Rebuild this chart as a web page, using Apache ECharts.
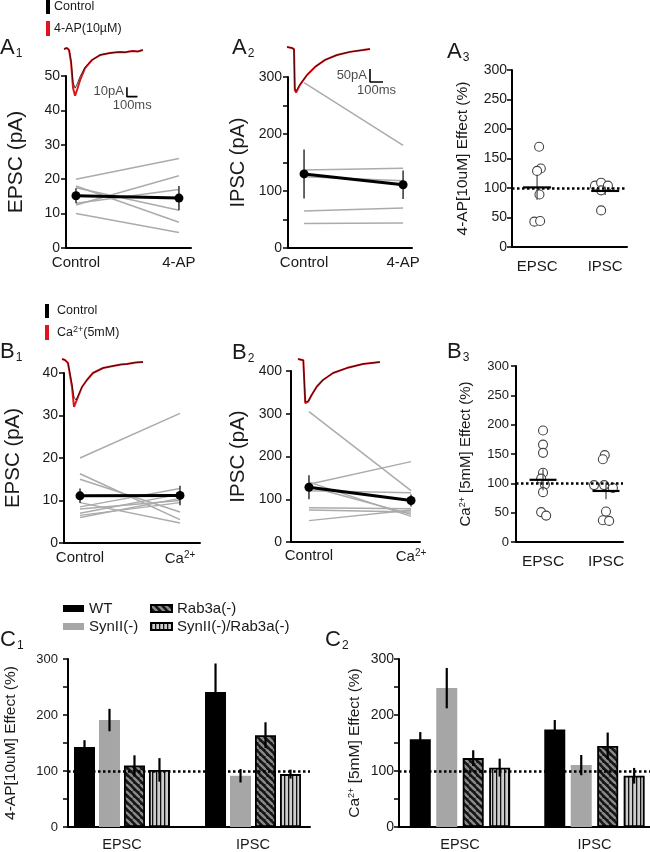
<!DOCTYPE html>
<html><head><meta charset="utf-8">
<script src="https://cdn.jsdelivr.net/npm/echarts@6/dist/echarts.min.js"></script>
<style>html,body{margin:0;padding:0;background:#fff}#c{width:650px;height:852px}</style>
</head><body><div id="c"></div>
<script>
// ================= DATA =================
const pairCatsA = ['Control', '4-AP'];
const pairCatsB = ['Control', 'Ca2+'];
const groupCats = ['EPSC', 'IPSC'];
const genotypes = ['WT', 'SynII(-)', 'Rab3a(-)', 'SynII(-)/Rab3a(-)'];

// A1 EPSC amplitude (pA), one entry per cell
const a1Control = [20, 12.5, 17.5, 18, 13, 10];
const a1FourAP  = [26, 21, 11, 7.5, 17, 4.5];
const a1Mean = [15.2, 14.5];
const a1Sem  = [2.2, 3.5];
// A2 IPSC amplitude (pA)
const a2Control = [290, 137, 125, 65, 43];
const a2FourAP  = [180, 140, 118, 70, 44];
const a2Mean = [130, 111];
const a2Sem  = [43, 25];
// A3 4-AP effect (%)
const a3EpscX = [1.03, 1.055, 1.0, 1.035, 0.96, 1.045];
const a3Epsc  = [170, 133, 129, 89, 43, 44];
const a3IpscX = [1.85, 1.94, 2.04, 1.94, 1.94];
const a3Ipsc  = [104, 109, 104, 96, 62];
const a3Mean = [101, 95];
const a3Sem  = [21, 7];
// B1 EPSC amplitude (pA)
const b1Control = [20, 16.3, 15, 9.5, 8.5, 8, 7, 6.5, 6];
const b1Calcium = [30.5, 5.5, 7.3, 4.7, 12.8, 10, 11.5, 9.5, 10.5];
const b1Mean = [11.1, 11.2];
const b1Sem  = [1.7, 2.3];
// B2 IPSC amplitude (pA)
const b2Control = [305, 135, 140, 120, 80, 75, 50, 130];
const b2Calcium = [120, 188, 60, 115, 78, 70, 75, 65];
const b2Mean = [128, 97];
const b2Sem  = [28, 14];
// B3 Ca2+ effect (%)
const b3EpscX = [1.0, 1.0, 1.0, 1.0, 0.97, 1.03, 1.0, 0.97, 1.05];
const b3Epsc  = [190, 166, 152, 118, 108, 98, 85, 51, 45];
const b3IpscX = [1.98, 1.95, 1.81, 1.97, 2.11, 2.0, 1.95, 2.05];
const b3Ipsc  = [148, 141, 97, 97, 92, 52, 37, 36];
const b3Mean = [106, 87];
const b3Sem  = [18, 14];
// C1 4-AP effect (%) per genotype: [EPSC, IPSC]
const c1Mean = [[143, 241], [191, 91.5], [110, 164], [102, 94.5]];
const c1Sem  = [[12, 51], [20, 12], [18, 23], [21, 8]];
// C2 Ca2+ effect (%) per genotype: [EPSC, IPSC]
const c2Mean = [[156.5, 174], [248, 110.5], [123, 144.7], [106, 91.5]];
const c2Sem  = [[13, 17], [36, 18], [14, 24], [16, 14]];
// reference level (%)
const baselinePct = 100;

// Example traces (time ms, current pA)
const a1TraceT    = [0, 28, 48, 67, 86, 105, 124, 152, 200, 266, 342, 437, 480, 532, 580, 620, 656, 700, 750];
const a1TraceCtl  = [0, 1, -1, -12, -35, -41, -37, -29, -19, -11.5, -6.3, -4.2, -3.6, -3.2, -3.5, -2.6, -2.1, -2.6, -1];
const a1TraceDrug = [0, 1, -1, -14, -41, -49, -43, -33, -20, -11.5, -6.3, -4.2, -3.6, -3.2, -3.5, -2.6, -2.1, -2.6, -1];
const a1ScaleBar  = [[598, -40], [598, -50], [698, -50]];   // 10 pA, 100 ms
const a2TraceT    = [0, 38, 54, 60, 70, 100, 154, 216, 293, 385, 485, 585, 639];
const a2TraceCtl  = [4, 0, -4, -155, -165, -140, -104, -73, -46, -27, -15, -8, -4];
const a2TraceDrug = [4, 0, -4, -162, -172, -142, -104, -73, -46, -27, -15, -8, -4];
const a2ScaleBar  = [[639, -81], [639, -131], [739, -131]]; // 50 pA, 100 ms
const b1TraceT    = [0, 28, 57, 95, 114, 133, 190, 237, 294, 390, 485, 560, 617, 700, 770];
const b1TraceCtl  = [0, -1, -4, -25, -38, -41, -28, -21, -14, -9, -7, -5.5, -5, -3.5, -3];
const b1TraceDrug = [0, -1, -4, -28, -48, -43, -28, -21, -14, -9, -7, -5.5, -5, -3.5, -3];
const b2TraceT    = [0, 15, 41, 56, 62, 79, 105, 144, 192, 270, 375, 500, 631];
const b2TraceCtl  = [0, 0, -5, -165, -172, -162, -139, -107, -81, -54, -35, -19, -12];
const b2TraceDrug = [0, 0, -5, -170, -177, -164, -139, -107, -81, -54, -35, -19, -12];

// ================= BUILD =================
const FONT = '"Liberation Sans", Arial, Helvetica, sans-serif';
const TXT = '#1a1a1a';
const RICH = {
  n: {fontFamily: FONT, color: TXT, fontSize: 15},
  s: {fontFamily: FONT, color: TXT, fontSize: 10, padding: [0, 0, 8, 0]}
};
const zip = (a, b) => a.map((v, i) => [v, b[i]]);

const grids = [], xAxes = [], yAxes = [], series = [];

function mainPanel(o) {
  grids.push({left: o.left, top: o.top, width: o.width, height: o.height, containLabel: false});
  const gi = grids.length - 1;
  xAxes.push({
    gridIndex: gi, type: 'value', min: o.xmin, max: o.xmax,
    axisLine: {show: true, onZero: false, lineStyle: {color: '#000', width: 2}},
    axisTick: {show: false}, splitLine: {show: false},
    axisLabel: {customValues: o.xvals, formatter: o.xfmt, fontSize: o.xfs, color: TXT,
      fontFamily: FONT, margin: o.xmargin, rich: RICH, showMinLabel: true, showMaxLabel: true}
  });
  yAxes.push({
    gridIndex: gi, type: 'value', min: o.ymin, max: o.ymax, interval: o.yint,
    name: o.yname, nameLocation: 'middle', nameGap: o.nameGap,
    nameTextStyle: {fontSize: o.nfs, color: TXT, fontFamily: FONT,
      rich: {n: {fontSize: o.nfs, fontFamily: FONT, color: TXT},
             s: {fontSize: Math.round(o.nfs * 0.6), fontFamily: FONT, color: TXT, padding: [0, 0, 7, 0]}}},
    axisLine: {show: true, onZero: false, lineStyle: {color: '#000', width: 2}},
    axisTick: {show: true, length: 5, lineStyle: {color: '#000', width: 1.5}},
    axisLabel: {fontSize: o.yfs, color: TXT, fontFamily: FONT, margin: o.ymargin,
      formatter: v => (o.yevery && v % o.yevery !== 0) ? '' : String(v)},
    splitLine: {show: false}
  });
  return gi;
}
function tracePanel(o) {
  grids.push({left: o.left, top: o.top, width: o.width, height: o.height, containLabel: false});
  const gi = grids.length - 1;
  xAxes.push({gridIndex: gi, type: 'value', min: o.xmin, max: o.xmax, show: false});
  yAxes.push({gridIndex: gi, type: 'value', min: o.ymin, max: o.ymax, show: false});
  return gi;
}
function traceSeries(gi, t, ctl, drug) {
  series.push({type: 'line', xAxisIndex: gi, yAxisIndex: gi, data: zip(t, drug), symbol: 'none',
    lineStyle: {color: '#d8161c', width: 2}, z: 3, silent: true});
  series.push({type: 'line', xAxisIndex: gi, yAxisIndex: gi, data: zip(t, ctl), symbol: 'none',
    lineStyle: {color: '#1a0000', width: 0.9, opacity: 0.85}, z: 4, silent: true});
}
function scaleBar(gi, pts, vText, hText) {
  series.push({type: 'line', xAxisIndex: gi, yAxisIndex: gi, data: pts, symbol: 'none',
    lineStyle: {color: '#000', width: 1.6}, z: 4, silent: true});
  const vmid = [pts[0][0], (pts[0][1] + pts[1][1]) / 2];
  const hmid = [(pts[1][0] + pts[2][0]) / 2, pts[1][1]];
  series.push({type: 'scatter', xAxisIndex: gi, yAxisIndex: gi, symbolSize: 0, silent: true,
    data: [
      {value: vmid, label: {show: true, position: 'left', distance: 3, formatter: vText}},
      {value: hmid, label: {show: true, position: 'bottom', distance: 2, formatter: hText}}
    ],
    label: {fontSize: 13, color: TXT, fontFamily: FONT}});
}
function errSeries(gi, pts, opt) {
  series.push({type: 'custom', xAxisIndex: gi, yAxisIndex: gi, data: pts, silent: true, z: opt.z || 6,
    renderItem: (params, api) => {
      const x = api.value(0), m = api.value(1), e = api.value(2);
      const lo = api.coord([x, m - e]), hi = api.coord([x, m + e]);
      const dx = opt.dx || 0;
      const ch = [{type: 'line', shape: {x1: lo[0] + dx, y1: lo[1], x2: hi[0] + dx, y2: hi[1]},
        style: {stroke: opt.color, lineWidth: opt.width}}];
      if (opt.meanW) {
        const c = api.coord([x, m]);
        ch.push({type: 'line', shape: {x1: c[0] - opt.meanW / 2, y1: c[1], x2: c[0] + opt.meanW / 2, y2: c[1]},
          style: {stroke: '#000', lineWidth: 2.2}});
      }
      return {type: 'group', children: ch};
    }});
}
function pairPanel(gi, ctl, drug, mean, sem) {
  ctl.forEach((c, i) => series.push({type: 'line', xAxisIndex: gi, yAxisIndex: gi, data: [[0, c], [1, drug[i]]],
    symbol: 'none', lineStyle: {color: '#ababab', width: 1.5}, z: 2, silent: true}));
  errSeries(gi, [[0, mean[0], sem[0]], [1, mean[1], sem[1]]], {color: '#333', width: 1.5, z: 4});
  series.push({type: 'line', xAxisIndex: gi, yAxisIndex: gi, data: [[0, mean[0]], [1, mean[1]]],
    symbol: 'circle', symbolSize: 9, itemStyle: {color: '#000'}, lineStyle: {color: '#000', width: 3}, z: 5, silent: true});
}
function refLine(gi, z) {
  series.push({type: 'line', xAxisIndex: gi, yAxisIndex: gi, data: [], silent: true, z: z,
    markLine: {silent: true, symbol: 'none', label: {show: false}, animation: false,
      lineStyle: {type: [2.5, 2.5], color: '#000', width: 2.5}, data: [{yAxis: baselinePct}]}});
}
function scatterPanel(gi, ex, ev, ix, iv, mean, sem, meanW) {
  refLine(gi, 2);
  series.push({type: 'scatter', xAxisIndex: gi, yAxisIndex: gi, symbol: 'circle', symbolSize: 9, silent: true,
    data: zip(ex, ev).concat(zip(ix, iv)),
    itemStyle: {color: '#fff', borderColor: '#444', borderWidth: 1.1, opacity: 1}, z: 3});
  errSeries(gi, [[1, mean[0], sem[0]], [2, mean[1], sem[1]]], {color: '#444', width: 1.2, meanW: meanW, z: 6});
}

// patterns
function hatchCanvas() {
  const c = document.createElement('canvas'); c.width = c.height = 7;
  const x = c.getContext('2d'); x.fillStyle = '#151515'; x.fillRect(0, 0, 7, 7);
  x.strokeStyle = '#8a8a8a'; x.lineWidth = 2.4;
  for (const o of [-7, 0, 7]) { x.beginPath(); x.moveTo(o, 0); x.lineTo(o + 7, 7); x.stroke(); }
  return c;
}
function stripeCanvas() {
  const c = document.createElement('canvas'); c.width = 4; c.height = 4;
  const x = c.getContext('2d'); x.fillStyle = '#cdcdcd'; x.fillRect(0, 0, 4, 4);
  x.fillStyle = '#111'; x.fillRect(0, 0, 1.3, 4);
  return c;
}
const fills = ['#000', '#a6a6a6', {image: hatchCanvas(), repeat: 'repeat'}, {image: stripeCanvas(), repeat: 'repeat'}];

function barPanel(gi, means, sems, barW, gapPct) {
  const step = barW * (1 + gapPct);
  refLine(gi, 1);
  genotypes.forEach((g, k) => {
    series.push({type: 'bar', name: g, xAxisIndex: gi, yAxisIndex: gi,
      data: [[1, means[k][0]], [2, means[k][1]]], barWidth: barW, barGap: (gapPct * 100) + '%',
      itemStyle: {color: fills[k], borderColor: '#000', borderWidth: k >= 2 ? 1.8 : 0}, z: 3, silent: true});
    errSeries(gi, [[1, means[k][0], sems[k][0]], [2, means[k][1], sems[k][1]]],
      {color: '#000', width: 2.2, dx: (k - 1.5) * step, z: 6});
  });
}

// ---------- Panels ----------
const pairFmtA = v => pairCatsA[Math.round(v)];
const pairFmtB = v => Math.round(v) === 0 ? '{n|Control}' : '{n|Ca}{s|2+}';
const groupFmt = v => groupCats[Math.round(v) - 1];
const caName = '{n|Ca}{s|2+}{n| [5mM] Effect (%)}';

// A1
let g = mainPanel({left: 66, top: 76, width: 125, height: 172, xmin: -0.097, xmax: 1.117, xvals: [0, 1],
  xfmt: pairFmtA, xfs: 15, xmargin: 7, ymin: 0, ymax: 50, yint: 10, yname: 'EPSC (pA)', nameGap: 39, nfs: 21,
  yfs: 14, ymargin: 6});
pairPanel(g, a1Control, a1FourAP, a1Mean, a1Sem);
// A2
g = mainPanel({left: 288, top: 77, width: 124, height: 171, xmin: -0.162, xmax: 1.09, xvals: [0, 1],
  xfmt: pairFmtA, xfs: 15, xmargin: 7, ymin: 0, ymax: 300, yint: 50, yevery: 100, yname: 'IPSC (pA)', nameGap: 40,
  nfs: 20, yfs: 14, ymargin: 6});
pairPanel(g, a2Control, a2FourAP, a2Mean, a2Sem);
// A3
g = mainPanel({left: 512, top: 70, width: 115, height: 177, xmin: 0.632, xmax: 2.32, xvals: [1, 2],
  xfmt: groupFmt, xfs: 15, xmargin: 12, ymin: 0, ymax: 300, yint: 50, yname: '4-AP[10uM] Effect (%)', nameGap: 41,
  nfs: 15.5, yfs: 14, ymargin: 5});
scatterPanel(g, a3EpscX, a3Epsc, a3IpscX, a3Ipsc, a3Mean, a3Sem, 28);
// B1
g = mainPanel({left: 64, top: 373, width: 136, height: 170, xmin: -0.16, xmax: 1.2, xvals: [0, 1],
  xfmt: pairFmtB, xfs: 15, xmargin: 7, ymin: 0, ymax: 40, yint: 10, yname: 'EPSC (pA)', nameGap: 40, nfs: 20.5,
  yfs: 14, ymargin: 6});
pairPanel(g, b1Control, b1Calcium, b1Mean, b1Sem);
// B2
g = mainPanel({left: 291, top: 371, width: 129, height: 171, xmin: -0.176, xmax: 1.088, xvals: [0, 1],
  xfmt: pairFmtB, xfs: 15, xmargin: 6, ymin: 0, ymax: 400, yint: 100, yname: 'IPSC (pA)', nameGap: 42, nfs: 20.5,
  yfs: 14, ymargin: 9});
pairPanel(g, b2Control, b2Calcium, b2Mean, b2Sem);
// B3
g = mainPanel({left: 516, top: 366, width: 107, height: 176, xmin: 0.571, xmax: 2.27, xvals: [1, 2],
  xfmt: groupFmt, xfs: 15.5, xmargin: 12, ymin: 0, ymax: 300, yint: 50,
  yname: caName, nameGap: 42, nfs: 15, yfs: 13, ymargin: 7});
scatterPanel(g, b3EpscX, b3Epsc, b3IpscX, b3Ipsc, b3Mean, b3Sem, 27);
// C1
g = mainPanel({left: 68, top: 659, width: 242, height: 169, xmin: 0.588, xmax: 2.435, xvals: [1, 2],
  xfmt: groupFmt, xfs: 14.5, xmargin: 10, ymin: 0, ymax: 300, yint: 50, yevery: 100,
  yname: '4-AP[10uM] Effect (%)', nameGap: 49, nfs: 15.5, yfs: 13, ymargin: 10});
barPanel(g, c1Mean, c1Sem, 21, 0.19);
// C2
g = mainPanel({left: 399, top: 659, width: 251, height: 169, xmin: 0.5465, xmax: 2.413, xvals: [1, 2],
  xfmt: groupFmt, xfs: 14.5, xmargin: 10, ymin: 0, ymax: 300, yint: 50, yevery: 100,
  yname: caName, nameGap: 36, nfs: 15.5, yfs: 14, ymargin: 5});
barPanel(g, c2Mean, c2Sem, 21, 0.26);

// Traces
g = tracePanel({left: 64, top: 39.5, width: 94.7, height: 66.7, xmin: 0, xmax: 900, ymin: -60, ymax: 10});
traceSeries(g, a1TraceT, a1TraceCtl, a1TraceDrug);
scaleBar(g, a1ScaleBar, '10pA', '100ms');
g = tracePanel({left: 287, top: 42.8, width: 110.4, height: 57.1, xmin: 0, xmax: 850, ymin: -200, ymax: 20});
traceSeries(g, a2TraceT, a2TraceCtl, a2TraceDrug);
scaleBar(g, a2ScaleBar, '50pA', '100ms');
g = tracePanel({left: 62, top: 349, width: 94.7, height: 70, xmin: 0, xmax: 900, ymin: -60, ymax: 10});
traceSeries(g, b1TraceT, b1TraceCtl, b1TraceDrug);
g = tracePanel({left: 298, top: 353.8, width: 110.4, height: 57.1, xmin: 0, xmax: 850, ymin: -200, ymax: 20});
traceSeries(g, b2TraceT, b2TraceCtl, b2TraceDrug);

// ---------- Graphic annotations ----------
function letter(l, sub, x, y) {
  return {type: 'text', x: x, y: y, silent: true, style: {text: '{a|' + l + '}{b|' + sub + '}',
    rich: {a: {fontSize: 22, fontFamily: FONT, fill: TXT}, b: {fontSize: 12, fontFamily: FONT, fill: TXT, padding: [12, 0, 0, 1]}}}};
}
function legText(x, y, rich) {
  return {type: 'text', x: x, y: y, silent: true, style: {text: rich, verticalAlign: 'middle',
    rich: {n: {fontSize: 12.5, fontFamily: FONT, fill: TXT}, s: {fontSize: 9, fontFamily: FONT, fill: TXT, padding: [0, 0, 7, 0]}}}};
}
const graphic = [
  letter('A', '1', 0, 36), letter('A', '2', 232, 36), letter('A', '3', 447, 40),
  letter('B', '1', 0, 340), letter('B', '2', 232, 341), letter('B', '3', 447, 340),
  letter('C', '1', 0, 628), letter('C', '2', 325, 628),
  {type: 'rect', shape: {x: 46, y: 0, width: 4, height: 14}, style: {fill: '#000'}, silent: true},
  {type: 'rect', shape: {x: 46, y: 21, width: 4, height: 15}, style: {fill: '#e0141c'}, silent: true},
  legText(54, 7, '{n|Control}'), legText(54, 29, '{n|4-AP(10µM)}'),
  {type: 'rect', shape: {x: 45, y: 304, width: 4, height: 14}, style: {fill: '#000'}, silent: true},
  {type: 'rect', shape: {x: 45, y: 325, width: 4, height: 15}, style: {fill: '#e0141c'}, silent: true},
  legText(57, 311, '{n|Control}'), legText(57, 333, '{n|Ca}{s|2+}{n|(5mM)}')
];

const chart = echarts.init(document.getElementById('c'), null, {renderer: 'canvas'});
chart.setOption({
  animation: false,
  backgroundColor: '#fff',
  textStyle: {fontFamily: FONT},
  grid: grids, xAxis: xAxes, yAxis: yAxes, series: series, graphic: graphic,
  legend: [
    {left: 58, top: 596, orient: 'vertical', itemWidth: 21, itemHeight: 7, itemGap: 3, icon: 'rect',
      selectedMode: false, data: ['WT', 'SynII(-)'], textStyle: {fontSize: 15, color: TXT, fontFamily: FONT}},
    {left: 145, top: 596, orient: 'vertical', itemWidth: 21, itemHeight: 7, itemGap: 3, icon: 'rect',
      selectedMode: false, data: ['Rab3a(-)', 'SynII(-)/Rab3a(-)'], textStyle: {fontSize: 15, color: TXT, fontFamily: FONT}}
  ]
});
</script></body></html>
